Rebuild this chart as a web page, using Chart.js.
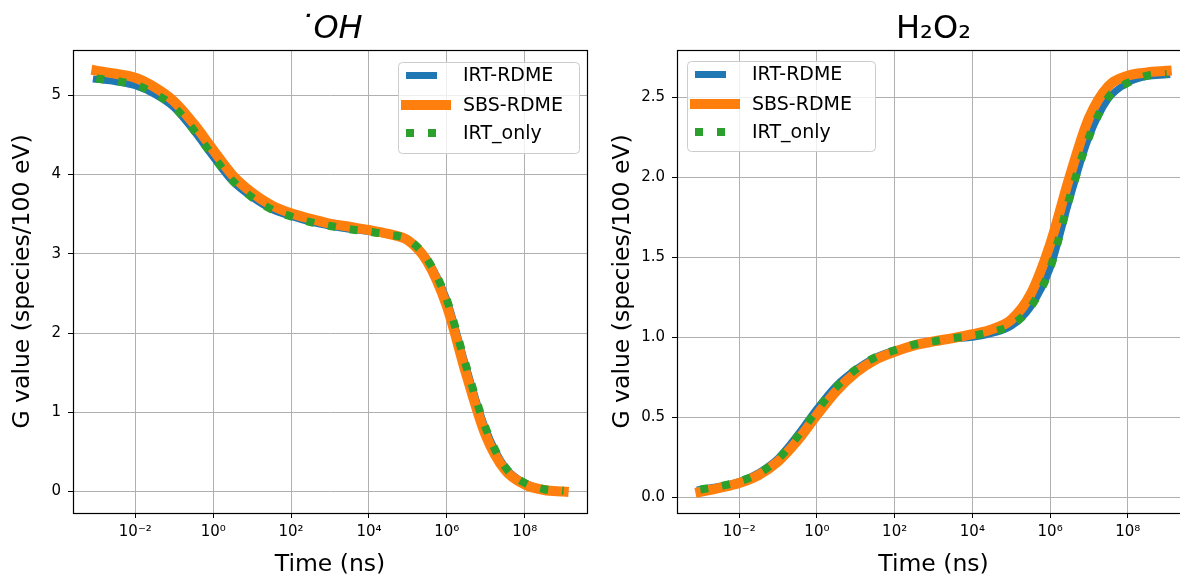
<!DOCTYPE html>
<html>
<head>
<meta charset="utf-8">
<script src="https://cdn.jsdelivr.net/npm/chart.js@4.4.1/dist/chart.umd.min.js"></script>
<style>
  html, body { margin: 0; padding: 0; background: #fff; overflow: hidden; }
  body { width: 1180px; height: 579px; position: relative; }
  .panel { position: absolute; top: 0; width: 600px; height: 579px; }
  #left { left: 0; }
  #right { left: 600px; }
</style>
</head>
<body>
<div class="panel" id="left"><canvas id="chartOH" width="600" height="579"></canvas></div>
<div class="panel" id="right"><canvas id="chartH2O2" width="600" height="579"></canvas></div>
<script>
// time points (ns), half a decade apart
const timeNs = [1e-3, 3.16e-3, 1e-2, 3.16e-2, 0.1, 0.316, 1, 3.16, 10, 31.6, 100, 316,
  1e3, 3.16e3, 1e4, 3.16e4, 1e5, 3.16e5, 1e6, 3.16e6, 1e7, 3.16e7, 1e8, 3.16e8, 1e9];

// G values for OH
const ohIrtRdme = [5.20, 5.17, 5.12, 5.01, 4.84, 4.55, 4.22, 3.91, 3.71, 3.56, 3.47, 3.40,
  3.35, 3.31, 3.28, 3.24, 3.18, 2.93, 2.42, 1.57, 0.79, 0.31, 0.11, 0.03, 0.01];
const ohSbsRdme = [5.31, 5.27, 5.22, 5.10, 4.92, 4.64, 4.31, 3.99, 3.77, 3.61, 3.51, 3.44,
  3.38, 3.34, 3.30, 3.25, 3.17, 2.90, 2.34, 1.48, 0.71, 0.27, 0.09, 0.02, 0.00];
const ohIrtOnly = [5.21, 5.18, 5.13, 5.02, 4.85, 4.56, 4.23, 3.92, 3.71, 3.56, 3.47, 3.40,
  3.35, 3.31, 3.28, 3.24, 3.18, 2.93, 2.42, 1.58, 0.80, 0.31, 0.11, 0.03, 0.01];

// G values for H2O2
const h2o2IrtRdme = [0.05, 0.07, 0.10, 0.155, 0.245, 0.39, 0.555, 0.70, 0.80, 0.875, 0.92, 0.95,
  0.97, 0.99, 1.00, 1.025, 1.07, 1.19, 1.43, 1.86, 2.25, 2.49, 2.59, 2.63, 2.64];
const h2o2SbsRdme = [0.035, 0.06, 0.09, 0.14, 0.225, 0.355, 0.515, 0.665, 0.78, 0.86, 0.91, 0.95,
  0.975, 0.995, 1.02, 1.05, 1.11, 1.27, 1.58, 2.00, 2.37, 2.57, 2.635, 2.655, 2.665];
const h2o2IrtOnly = [0.05, 0.07, 0.10, 0.15, 0.24, 0.38, 0.545, 0.69, 0.80, 0.875, 0.92, 0.955,
  0.975, 0.995, 1.01, 1.035, 1.075, 1.19, 1.43, 1.87, 2.25, 2.50, 2.59, 2.635, 2.645];

const seriesNames = ['IRT-RDME', 'SBS-RDME', 'IRT_only'];
const xTicks = [1e-2, 1, 1e2, 1e4, 1e6, 1e8];
const xTickLabels = ['10⁻²', '10⁰', '10²', '10⁴', '10⁶', '10⁸'];
const ohTicks = [0, 1, 2, 3, 4, 5];
const h2o2Ticks = [0, 0.5, 1, 1.5, 2, 2.5];

const FONT = 'DejaVu Sans';
const BLUE = '#1f77b4', ORANGE = '#ff7f0e', GREEN = '#2ca02c';

const toPoints = (ys) => timeNs.map((t, i) => ({ x: t, y: ys[i] }));

// black box around the plot area, like matplotlib spines
const framePlugin = {
  id: 'frame',
  afterDraw(chart) {
    const a = chart.chartArea, ctx = chart.ctx;
    ctx.save();
    ctx.strokeStyle = '#000';
    ctx.lineWidth = 1.2;
    ctx.strokeRect(Math.round(a.left) + 0.5, Math.round(a.top) + 0.5,
      Math.round(a.right - a.left), Math.round(a.bottom - a.top));
    ctx.restore();
  }
};

// legend drawn inside the axes
const boxLegend = {
  id: 'boxLegend',
  afterDatasetsDraw(chart, args, opts) {
    const a = chart.chartArea, ctx = chart.ctx;
    const x0 = opts.side === 'right' ? a.right - opts.inset - opts.width : a.left + opts.inset;
    const y0 = a.top + opts.top;
    ctx.save();
    ctx.beginPath();
    ctx.roundRect(Math.round(x0) + 0.5, Math.round(y0) + 0.5, opts.width, opts.height, 4);
    ctx.fillStyle = 'rgba(255,255,255,0.8)';
    ctx.fill();
    ctx.strokeStyle = '#cccccc';
    ctx.lineWidth = 1;
    ctx.stroke();

    const rows = [13.5, 43, 71];
    ctx.lineCap = 'butt';
    // IRT-RDME
    ctx.beginPath();
    ctx.strokeStyle = BLUE; ctx.lineWidth = 7;
    ctx.moveTo(x0 + 8, y0 + rows[0]); ctx.lineTo(x0 + 39, y0 + rows[0]);
    ctx.stroke();
    // SBS-RDME
    ctx.beginPath();
    ctx.strokeStyle = ORANGE; ctx.lineWidth = 10;
    ctx.moveTo(x0 + 3, y0 + rows[1]); ctx.lineTo(x0 + 53, y0 + rows[1]);
    ctx.stroke();
    // IRT_only
    ctx.beginPath();
    ctx.strokeStyle = GREEN; ctx.lineWidth = 8;
    ctx.setLineDash([8, 14]);
    ctx.moveTo(x0 + 8, y0 + rows[2]); ctx.lineTo(x0 + 39, y0 + rows[2]);
    ctx.stroke();
    ctx.setLineDash([]);

    ctx.fillStyle = '#000';
    ctx.font = '19px "' + FONT + '"';
    ctx.textBaseline = 'middle';
    ctx.textAlign = 'left';
    seriesNames.forEach((name, i) => ctx.fillText(name, x0 + 65, y0 + rows[i] + 1));
    ctx.restore();
  }
};

function makeChart(id, opt) {
  return new Chart(document.getElementById(id), {
    type: 'line',
    data: {
      datasets: [
        { label: seriesNames[0], data: toPoints(opt.series[0]), borderColor: BLUE, borderWidth: 7,
          borderCapStyle: 'square', order: 2 },
        { label: seriesNames[1], data: toPoints(opt.series[1]), borderColor: ORANGE, borderWidth: 10,
          borderCapStyle: 'square', order: 1 },
        { label: seriesNames[2], data: toPoints(opt.series[2]), borderColor: GREEN, borderWidth: 8,
          borderDash: [8, 14], borderCapStyle: 'butt', order: 0 }
      ]
    },
    options: {
      responsive: false,
      animation: false,
      devicePixelRatio: 1,
      layout: { padding: { left: 0, right: opt.padRight, top: 0, bottom: 0 } },
      elements: {
        point: { radius: 0 },
        line: { cubicInterpolationMode: 'monotone', fill: false }
      },
      scales: {
        x: {
          type: 'logarithmic',
          min: Math.pow(10, -3.6),
          max: Math.pow(10, 9.6),
          afterBuildTicks: (s) => { s.ticks = xTicks.map(v => ({ value: v })); },
          afterFit: (s) => { s.height = 66; },
          ticks: {
            autoSkip: false, maxRotation: 0, padding: 5, color: '#000',
            font: { family: FONT, size: 15 },
            callback: (v, i) => xTickLabels[i]
          },
          grid: { color: '#b0b0b0', lineWidth: 1, tickColor: '#000', tickLength: 5 },
          border: { color: '#000', width: 1 },
          title: {
            display: true, text: 'Time (ns)', color: '#000',
            font: { family: FONT, size: 23.5 }, padding: { top: -1.5, bottom: 0 }
          }
        },
        y: {
          min: opt.yMin,
          max: opt.yMax,
          afterBuildTicks: (s) => { s.ticks = opt.yTicks.map(v => ({ value: v })); },
          afterFit: (s) => { s.width = opt.yWidth; },
          ticks: {
            padding: 7, color: '#000',
            font: { family: FONT, size: 15 },
            callback: opt.yFmt
          },
          grid: { color: '#b0b0b0', lineWidth: 1, tickColor: '#000', tickLength: 5 },
          border: { color: '#000', width: 1 },
          title: {
            display: true, text: 'G value (species/100 eV)', color: '#000',
            font: { family: FONT, size: 23.5 }, padding: { top: 9, bottom: 0 }
          }
        }
      },
      plugins: {
        legend: { display: false },
        tooltip: { enabled: false },
        title: {
          display: true, text: opt.title, fullSize: false, color: '#000',
          font: { family: FONT, size: 32, weight: 'normal', style: opt.titleStyle },
          padding: { top: 10, bottom: 1.6 }
        },
        boxLegend: opt.legend
      }
    },
    plugins: [framePlugin, boxLegend]
  });
}

makeChart('chartOH', {
  title: '˙OH', titleStyle: 'italic',
  series: [ohIrtRdme, ohSbsRdme, ohIrtOnly],
  yMin: -0.27, yMax: 5.57, yTicks: ohTicks, yFmt: (v) => String(v),
  yWidth: 73, padRight: 13,
  legend: { side: 'right', inset: 8, top: 12, width: 181, height: 91 }
});

makeChart('chartH2O2', {
  title: 'H₂O₂', titleStyle: 'normal',
  series: [h2o2IrtRdme, h2o2SbsRdme, h2o2IrtOnly],
  yMin: -0.097, yMax: 2.795, yTicks: h2o2Ticks, yFmt: (v) => v.toFixed(1),
  yWidth: 77, padRight: 10,
  legend: { side: 'left', inset: 10, top: 11, width: 188, height: 90 }
});
</script>
</body>
</html>
